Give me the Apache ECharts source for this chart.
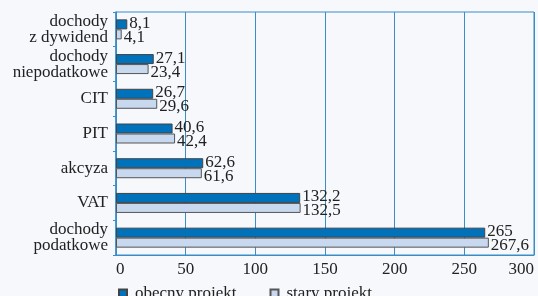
<!DOCTYPE html>
<html>
<head>
<meta charset="utf-8">
<script src="https://cdn.jsdelivr.net/npm/echarts@6/dist/echarts.min.js"></script>
<style>
  html, body { margin: 0; padding: 0; background: #f6f8fb; }
  #chart { width: 538px; height: 296px; }
</style>
</head>
<body>
<div id="chart"></div>
<script>
// categories listed bottom to top
var categories = ['dochody\npodatkowe', 'VAT', 'akcyza', 'PIT', 'CIT', 'dochody\nniepodatkowe', 'dochody\nz dywidend']
var obecnyProjekt = [265, 132.2, 62.6, 40.6, 26.7, 27.1, 8.1]
var staryProjekt = [267.6, 132.5, 61.6, 42.4, 29.6, 23.4, 4.1]
var xTicks = [0, 50, 100, 150, 200, 250, 300]

var blue = '#3a8dc6'
var serif = 'Liberation Serif'

function fmt (p) {
  return String(p.value).replace('.', ',')
}

var myChart = echarts.init(document.getElementById('chart'))
myChart.setOption({
  animation: false,
  textStyle: { fontFamily: serif },
  grid: {
    left: 116,
    right: 4,
    top: 12,
    bottom: 41,
    outerBoundsMode: 'none',
    containLabel: false,
    show: true,
    borderColor: blue,
    borderWidth: 1,
    backgroundColor: 'transparent'
  },
  legend: {
    data: ['obecny projekt', 'stary projekt'],
    left: 113,
    top: 280,
    itemGap: 33,
    itemWidth: 8,
    itemHeight: 8,
    icon: 'rect',
    textStyle: { fontFamily: serif, fontSize: 17, color: '#222', padding: [0, 0, 0, 3] }
  },
  xAxis: {
    type: 'value',
    min: xTicks[0],
    max: xTicks[xTicks.length - 1],
    interval: 50,
    axisLine: { show: true, lineStyle: { color: blue } },
    axisTick: { show: false },
    splitLine: { lineStyle: { color: blue, width: 1 } },
    axisLabel: {
      fontFamily: serif,
      fontSize: 17,
      color: '#222',
      margin: 6,
      alignMinLabel: 'left',
      alignMaxLabel: 'right'
    }
  },
  yAxis: {
    type: 'category',
    data: categories,
    axisLine: { show: true, lineStyle: { color: blue, width: 1.5 } },
    axisTick: { show: true, length: 3, lineStyle: { color: blue } },
    axisLabel: { fontFamily: serif, fontSize: 17, color: '#222', lineHeight: 16, margin: 8 }
  },
  series: [
    {
      name: 'obecny projekt',
      type: 'bar',
      data: obecnyProjekt,
      barWidth: 10,
      barGap: '0%',
      itemStyle: { color: '#0071bb', borderColor: '#444', borderWidth: 1 },
      label: {
        show: true,
        position: 'right',
        distance: 2,
        offset: [0, -1],
        formatter: fmt,
        fontFamily: serif,
        fontSize: 17,
        color: '#222'
      }
    },
    {
      name: 'stary projekt',
      type: 'bar',
      data: staryProjekt,
      barWidth: 10,
      barGap: '0%',
      itemStyle: { color: '#c8d8ee', borderColor: '#555', borderWidth: 1 },
      label: {
        show: true,
        position: 'right',
        distance: 2,
        offset: [0, 3],
        formatter: fmt,
        fontFamily: serif,
        fontSize: 17,
        color: '#222'
      }
    }
  ]
})
</script>
</body>
</html>
